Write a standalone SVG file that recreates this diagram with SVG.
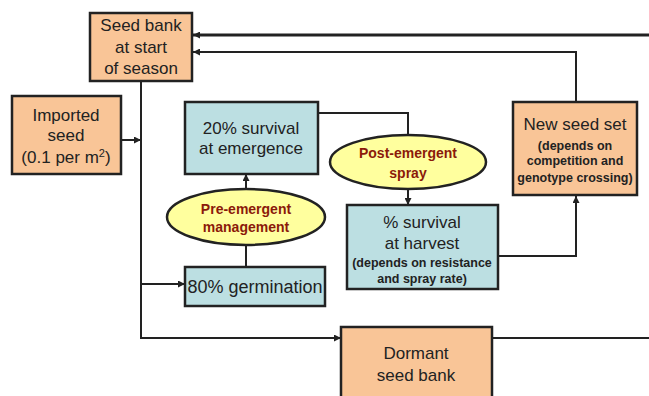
<svg xmlns="http://www.w3.org/2000/svg" width="649" height="396" viewBox="0 0 649 396">
<style>
.box{stroke:#222;stroke-width:2.5}
.or{fill:#F9C597}
.bl{fill:#BCDFE2}
.el{fill:#FFFF9E;stroke:#222;stroke-width:2.5}
.t{font-family:"Liberation Sans",Arial,sans-serif;font-size:17px;fill:#222;text-anchor:middle}
.s{font-family:"Liberation Sans",Arial,sans-serif;font-size:12.5px;font-weight:bold;fill:#222;text-anchor:middle}
.r{font-family:"Liberation Sans",Arial,sans-serif;font-size:14px;font-weight:bold;fill:#8B1A0A;text-anchor:middle}
.c{fill:none;stroke:#222;stroke-width:2}
</style>
<defs>
<marker id="a" viewBox="0 0 10 10" refX="10" refY="5" markerWidth="7" markerHeight="7" orient="auto" markerUnits="userSpaceOnUse">
<path d="M0,0L10,5L0,10z" fill="#222"/>
</marker>
</defs>
<rect width="649" height="396" fill="#fff"/>
<g id="connectors">
<path class="c" style="stroke-width:3" d="M649,35H193" marker-end="url(#a)"/>
<path class="c" d="M576,102V52H193" marker-end="url(#a)"/>
<path class="c" d="M121,140H141" marker-end="url(#a)"/>
<path class="c" d="M141,81V338H341" marker-end="url(#a)"/>
<path class="c" d="M141,284H185" marker-end="url(#a)"/>
<path class="c" d="M318,113H408V135"/>
<path class="c" d="M408,190V205" marker-end="url(#a)"/>
<path class="c" d="M246,189V174" marker-end="url(#a)"/>
<path class="c" d="M246,245V267"/>
<path class="c" d="M498,256H576V196" marker-end="url(#a)"/>
<path class="c" d="M492,338H649"/>
</g>
<g id="seedbank">
<rect class="box or" x="90" y="13" width="102" height="68"/>
<text class="t" x="141" y="31">Seed bank</text>
<text class="t" x="141" y="53">at start</text>
<text class="t" x="141" y="74">of season</text>
</g>
<g id="imported">
<rect class="box or" x="12" y="96" width="109" height="78"/>
<text class="t" x="66" y="121">Imported</text>
<text class="t" x="66" y="141">seed</text>
<text class="t" x="66" y="163">(0.1 per m<tspan font-size="11" dy="-6">2</tspan><tspan dy="6">)</tspan></text>
</g>
<g id="emergence">
<rect class="box bl" x="185" y="102" width="133" height="72"/>
<text class="t" x="251" y="134">20% survival</text>
<text class="t" x="251" y="154">at emergence</text>
</g>
<g id="postspray">
<ellipse class="el" cx="408" cy="162" rx="78" ry="27"/>
<text class="r" x="408" y="158">Post-emergent</text>
<text class="r" x="408" y="178">spray</text>
</g>
<g id="newseed">
<rect class="box or" x="513" y="102" width="124" height="93"/>
<text class="t" x="575" y="130">New seed set</text>
<text class="s" x="575" y="150">(depends on</text>
<text class="s" x="575" y="165">competition and</text>
<text class="s" x="575" y="182">genotype crossing)</text>
</g>
<g id="harvest">
<rect class="box bl" x="347" y="205" width="151" height="84"/>
<text class="t" x="422" y="228">% survival</text>
<text class="t" x="422" y="249">at harvest</text>
<text class="s" x="422" y="267">(depends on resistance</text>
<text class="s" x="422" y="283">and spray rate)</text>
</g>
<g id="preemergent">
<ellipse class="el" cx="246" cy="217" rx="79" ry="28"/>
<text class="r" x="246" y="214">Pre-emergent</text>
<text class="r" x="246" y="232">management</text>
</g>
<g id="germination">
<rect class="box bl" x="185" y="267" width="140" height="39"/>
<text class="t" x="255" y="293" style="font-size:18px">80% germination</text>
</g>
<g id="dormant">
<rect class="box or" x="341" y="327" width="151" height="75"/>
<text class="t" x="416" y="359">Dormant</text>
<text class="t" x="416" y="381">seed bank</text>
</g>
</svg>
